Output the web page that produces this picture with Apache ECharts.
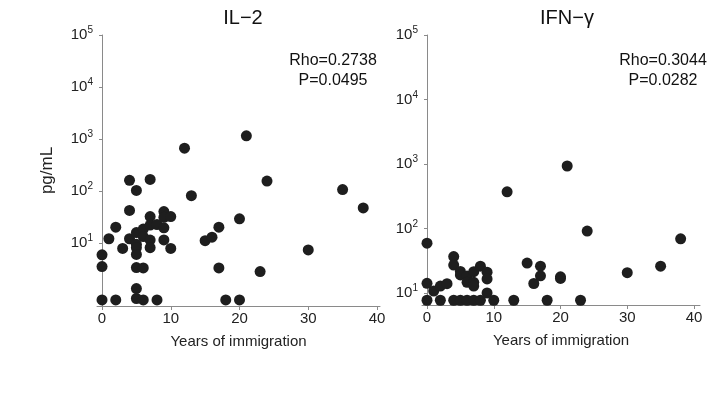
<!DOCTYPE html>
<html>
<head>
<meta charset="utf-8">
<script src="https://cdn.jsdelivr.net/npm/echarts@6/dist/echarts.min.js"></script>
<style>
  html, body { margin: 0; padding: 0; background: #fff; }
  #chart { width: 718px; height: 402px; }
</style>
</head>
<body>
<div id="chart"></div>
<script>
// IL-2: [years of immigration, pg/mL]
var il2Points = [
  [0, 5.9], [0, 3.5], [0, 0.8], [1, 12], [2, 20], [2, 0.8], [3, 7.8],
  [4, 160], [4, 42], [4, 12],
  [5, 102], [5, 15.8], [5, 9.4], [5, 8.1], [5, 6.0], [5, 3.35], [5, 1.32], [5, 0.85],
  [6, 18.4], [6, 13.2], [6, 3.3], [6, 0.8],
  [7, 166], [7, 32], [7, 22], [7, 11.3], [7, 8.1],
  [8, 22.5], [8, 0.8],
  [9, 40], [9, 31], [9, 19.5], [9, 11.4],
  [10, 32], [10, 7.8],
  [12, 665], [13, 81], [15, 11], [16, 12.9], [17, 20], [17, 3.3], [18, 0.8],
  [20, 29], [20, 0.8], [21, 1150], [23, 2.8], [24, 155], [30, 7.3], [35, 106], [38, 47]
];
// IFN-γ: [years of immigration, pg/mL]
var ifnPoints = [
  [0, 59], [0, 14.1], [0, 7.7], [1, 10.7], [2, 12.8], [2, 7.7], [3, 13.9],
  [4, 36.6], [4, 27], [4, 7.7],
  [5, 21.5], [5, 19], [5, 7.7],
  [6, 18.3], [6, 14.6], [6, 7.7],
  [7, 21.4], [7, 14.6], [7, 12.8], [7, 7.7],
  [8, 26], [8, 7.7],
  [9, 21], [9, 16.5], [9, 10],
  [10, 7.7], [12, 370], [13, 7.7], [15, 29], [16, 14], [17, 26], [17, 18.4], [18, 7.7],
  [20, 17.8], [20, 16.8], [21, 930], [23, 7.7], [24, 91], [30, 20.6], [35, 26], [38, 69]
];
var xTicks = [0, 10, 20, 30, 40];
var yTicks = [10, 100, 1000, 10000, 100000];
var panelTitles = ['IL−2', 'IFN−γ'];
var statTexts = ['Rho=0.2738\nP=0.0495', 'Rho=0.3044\nP=0.0282'];

var font = 'Liberation Sans, Arial, sans-serif';
var axisGrey = '#8a8a8a';
var dotColor = '#1e1e1e';

function makeX(idx, min, max) {
  return {
    type: 'value', gridIndex: idx, min: min, max: max,
    name: 'Years of immigration', nameLocation: 'middle', nameGap: 28,
    nameTextStyle: { fontFamily: font, fontSize: 15, color: '#222' },
    axisLine: { show: true, lineStyle: { color: axisGrey, width: 1 } },
    axisTick: { show: true, length: 4, customValues: xTicks, lineStyle: { color: axisGrey } },
    axisLabel: { customValues: xTicks, fontFamily: font, fontSize: 15, color: '#222', margin: 5 },
    splitLine: { show: false }
  };
}

function makeY(idx, min, withName) {
  return {
    type: 'log', logBase: 10, gridIndex: idx, min: min, max: 100000,
    name: withName ? 'pg/mL' : '', nameLocation: 'middle', nameGap: 41,
    nameTextStyle: { fontFamily: font, fontSize: 17, color: '#222' },
    axisLine: { show: true, lineStyle: { color: axisGrey, width: 1 } },
    axisTick: { show: true, length: 3, inside: false, customValues: yTicks, lineStyle: { color: axisGrey } },
    axisLabel: {
      customValues: yTicks, margin: 4, color: '#222',
      fontFamily: font, fontSize: 15,
      formatter: function (v) {
        return '10{sup|' + Math.round(Math.log10(v)) + '}';
      },
      rich: {
        sup: { fontFamily: font, fontSize: 10, color: '#222', verticalAlign: 'top', padding: [0, 0, 9, 0] }
      }
    },
    splitLine: { show: false }
  };
}

var chart = echarts.init(document.getElementById('chart'));
chart.setOption({
  backgroundColor: '#fff',
  animation: false,
  title: [
    { text: panelTitles[0], left: 238, top: 3, textAlign: 'center',
      textStyle: { fontFamily: font, fontSize: 20, fontWeight: 'normal', color: '#111' } },
    { text: panelTitles[1], left: 562, top: 3, textAlign: 'center',
      textStyle: { fontFamily: font, fontSize: 20, fontWeight: 'normal', color: '#111' } },
    { text: statTexts[0], left: 328, top: 46, textAlign: 'center',
      textStyle: { fontFamily: font, fontSize: 16, fontWeight: 'normal', color: '#111', lineHeight: 20, align: 'center' } },
    { text: statTexts[1], left: 658, top: 46, textAlign: 'center',
      textStyle: { fontFamily: font, fontSize: 16, fontWeight: 'normal', color: '#111', lineHeight: 20, align: 'center' } }
  ],
  grid: [
    { left: 97, top: 35, width: 283, height: 271 },
    { left: 422, top: 35, width: 278, height: 270 }
  ],
  xAxis: [makeX(0, -0.73, 40.44), makeX(1, -0.75, 40.9)],
  yAxis: [makeY(0, 0.61, true), makeY(1, 6.5, false)],
  series: [
    { type: 'scatter', xAxisIndex: 0, yAxisIndex: 0, data: il2Points,
      symbolSize: 11, itemStyle: { color: dotColor, opacity: 1 } },
    { type: 'scatter', xAxisIndex: 1, yAxisIndex: 1, data: ifnPoints,
      symbolSize: 11, itemStyle: { color: dotColor, opacity: 1 } }
  ]
});
</script>
</body>
</html>
